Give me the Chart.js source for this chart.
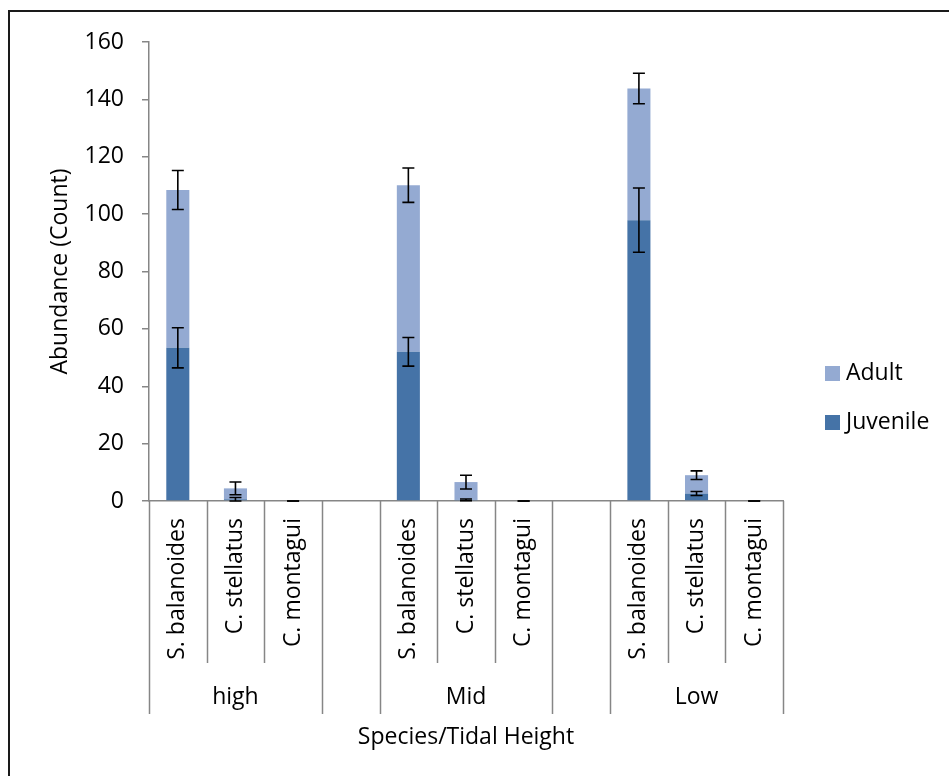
<!DOCTYPE html>
<html lang="en">
<head>
    <meta charset="UTF-8">
    <title>Abundance by Species and Tidal Height</title>
    <script src="https://cdn.jsdelivr.net/npm/chart.js"></script>
    <style>
        html, body {
            margin: 0;
            padding: 0;
            background: #ffffff;
        }
        .chart-container {
            position: relative;
            width: 949px;
            height: 776px;
        }
    </style>
</head>
<body>
    <div class="chart-container">
        <canvas id="barChart"></canvas>
    </div>

    <script>
        // categories (blank slots separate the tidal heights)
        const species = ["S. balanoides", "C. stellatus", "C. montagui", "",
                         "S. balanoides", "C. stellatus", "C. montagui", "",
                         "S. balanoides", "C. stellatus", "C. montagui"];
        const groups = ["high", "Mid", "Low"];
        const groupStart = [0, 4, 8];
        const groupSize = 3;

        const juvenile    = [53.4, 0.6, 0, null, 52.0, 0.4, 0, null, 97.9, 2.6, 0];
        const juvenileErr = [7.0, 0.6, 0, null, 5.0, 0.3, 0, null, 11.2, 0.7, 0];
        const adult       = [55.0, 3.8, 0, null, 58.1, 6.2, 0, null, 45.9, 6.4, 0];
        const adultErr    = [6.8, 2.2, 0, null, 6.0, 2.4, 0, null, 5.3, 1.5, 0];

        const yTicks = [0, 20, 40, 60, 80, 100, 120, 140, 160];

        const FONT = "'Open Sans', sans-serif";
        const FONT_SIZE = 23;
        const AXIS_GREY = "#868686";

        // error bars, multi-level category axis, legend and frame
        const decorPlugin = {
            id: "decor",
            afterDatasetsDraw(chart) {
                const ctx = chart.ctx;
                const y = chart.scales.y;
                ctx.save();
                ctx.strokeStyle = "#000000";
                ctx.lineWidth = 1.6;
                const errs = [juvenileErr, adultErr];
                chart.data.datasets.forEach((ds, di) => {
                    const meta = chart.getDatasetMeta(di);
                    meta.data.forEach((bar, i) => {
                        const e = errs[di][i];
                        if (e === null || ds.data[i] === null) return;
                        let top = 0;
                        for (let k = 0; k <= di; k++) top += chart.data.datasets[k].data[i];
                        const x = bar.x;
                        const y1 = y.getPixelForValue(top + e);
                        const y2 = y.getPixelForValue(top - e);
                        ctx.beginPath();
                        ctx.moveTo(x, y1); ctx.lineTo(x, y2);
                        ctx.moveTo(x - 6, y1); ctx.lineTo(x + 6, y1);
                        ctx.moveTo(x - 6, y2); ctx.lineTo(x + 6, y2);
                        ctx.stroke();
                    });
                });
                ctx.restore();
            },
            afterDraw(chart) {
                const ctx = chart.ctx;
                const x = chart.scales.x;
                const area = chart.chartArea;
                const half = (x.getPixelForValue(1) - x.getPixelForValue(0)) / 2;
                ctx.save();

                // frame (top and left edges only, as cropped)
                ctx.strokeStyle = "#1a1a1a";
                ctx.lineWidth = 2;
                ctx.beginPath();
                ctx.moveTo(9, 776); ctx.lineTo(9, 11); ctx.lineTo(949, 11);
                ctx.stroke();

                // category separators
                ctx.strokeStyle = AXIS_GREY;
                ctx.lineWidth = 1.5;
                const longEdges = new Set();
                groupStart.forEach(s => { longEdges.add(s); longEdges.add(s + groupSize); });
                for (let i = 0; i <= species.length; i++) {
                    const inGroup = groupStart.some(s => i > s && i < s + groupSize);
                    if (!longEdges.has(i) && !inGroup) continue;
                    const px = Math.round(x.getPixelForValue(i) - half) + 0.5;
                    ctx.beginPath();
                    ctx.moveTo(px, area.bottom);
                    ctx.lineTo(px, longEdges.has(i) ? 714 : 663);
                    ctx.stroke();
                }

                // group labels
                ctx.fillStyle = "#000000";
                ctx.font = FONT_SIZE + "px " + FONT;
                ctx.textAlign = "center";
                ctx.textBaseline = "middle";
                groups.forEach((g, gi) => {
                    const mid = x.getPixelForValue(groupStart[gi] + (groupSize - 1) / 2);
                    ctx.fillText(g, mid, 697);
                });

                // legend
                const items = [
                    { label: chart.data.datasets[1].label, color: chart.data.datasets[1].backgroundColor, y: 373 },
                    { label: chart.data.datasets[0].label, color: chart.data.datasets[0].backgroundColor, y: 422 }
                ];
                ctx.textAlign = "left";
                items.forEach(it => {
                    ctx.fillStyle = it.color;
                    ctx.fillRect(825, it.y - 7, 15, 15);
                    ctx.fillStyle = "#000000";
                    ctx.fillText(it.label, 846, it.y);
                });
                ctx.restore();
            }
        };

        const barCtx = document.getElementById("barChart").getContext("2d");
        const barChart = new Chart(barCtx, {
            type: "bar",
            data: {
                labels: species,
                datasets: [{
                    label: "Juvenile",
                    data: juvenile,
                    backgroundColor: "#4573A7"
                }, {
                    label: "Adult",
                    data: adult,
                    backgroundColor: "#94AAD2"
                }]
            },
            options: {
                responsive: true,
                maintainAspectRatio: false,
                animation: false,
                layout: {
                    padding: { top: 42, right: 166, left: 0, bottom: 0 }
                },
                datasets: {
                    bar: { barPercentage: 0.4, categoryPercentage: 1.0 }
                },
                plugins: {
                    legend: { display: false },
                    tooltip: { enabled: false }
                },
                scales: {
                    x: {
                        stacked: true,
                        afterFit(scale) { scale.height = 275; },
                        grid: { display: false, drawTicks: false },
                        border: { display: true, color: AXIS_GREY, width: 1.5 },
                        ticks: {
                            autoSkip: false,
                            minRotation: 90,
                            maxRotation: 90,
                            padding: 17,
                            color: "#000000",
                            font: { family: FONT, size: FONT_SIZE }
                        },
                        title: {
                            display: true,
                            text: "Species/Tidal Height",
                            color: "#000000",
                            font: { family: FONT, size: FONT_SIZE },
                            padding: { top: 0, bottom: 25 }
                        }
                    },
                    y: {
                        stacked: true,
                        min: yTicks[0],
                        max: yTicks[yTicks.length - 1],
                        afterFit(scale) { scale.width = 149; },
                        afterBuildTicks(scale) { scale.ticks = yTicks.map(v => ({ value: v })); },
                        grid: {
                            drawOnChartArea: false,
                            tickLength: 7,
                            color: AXIS_GREY,
                            lineWidth: 1.5
                        },
                        border: { display: true, color: AXIS_GREY, width: 1.5 },
                        ticks: {
                            padding: 18,
                            color: "#000000",
                            font: { family: FONT, size: FONT_SIZE }
                        },
                        title: {
                            display: true,
                            text: "Abundance (Count)",
                            color: "#000000",
                            font: { family: FONT, size: FONT_SIZE },
                            padding: { top: 47, bottom: 0 }
                        }
                    }
                }
            },
            plugins: [decorPlugin]
        });
    </script>
</body>
</html>
